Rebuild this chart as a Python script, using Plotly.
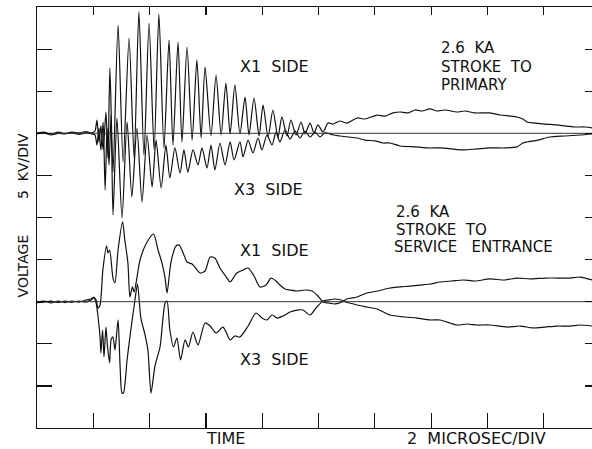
import plotly.graph_objects as go

# ---------------- data (time in microseconds, voltage in kV relative to each trace's baseline) -------------
X_MAX = 19.716          # visible end of the 10-division (20 us) sweep
TIME_TICKS = [2, 4, 6, 8, 10, 12, 14, 16, 18]
VOLT_TICKS = [-30, -25, -20, -15, -10, -5, 0, 5, 10]
UPPER_BASE = 0.0        # stroke to primary baseline (kV)
LOWER_BASE = -20.0      # stroke to service entrance baseline (kV)

# Stroke to primary, X1 side
P_X1_T = [0.00, 0.25, 0.50, 0.75, 0.99, 1.24, 1.49, 1.74, 1.95, 2.06, 2.13, 2.20, 2.27, 2.35, 2.45, 2.52,
          2.59, 2.70, 2.88, 3.06, 3.27, 3.45, 3.62, 3.80, 3.98, 4.16, 4.33, 4.51, 4.69, 4.83, 5.01, 5.15,
          5.33, 5.51, 5.68, 5.83, 5.97, 6.18, 6.36, 6.54, 6.71, 6.86, 7.03, 7.21, 7.39, 7.53, 7.71, 7.89,
          8.03, 8.21, 8.38, 8.56, 8.70, 8.88, 9.02, 9.20, 9.38, 9.52, 9.70, 9.84, 9.98, 10.16, 10.34, 10.52,
          10.76, 11.01, 11.37, 11.65, 12.08, 12.36, 12.65, 12.90, 13.18, 13.43, 13.68, 13.96, 14.21, 14.49,
          14.92, 15.20, 15.56, 16.09, 16.45, 16.80, 17.05, 17.26, 17.41, 17.69, 18.05, 18.47, 18.76, 19.11,
          19.47, 19.72]
P_X1_V = [0.04, 0.15, -0.08, 0.15, -0.02, 0.15, 0.04, 0.21, 0.04, 0.27, 1.58, -1.03, 0.87, -1.98, 2.53, -2.93,
          7.76, -4.60, 12.86, -3.41, 11.31, -2.93, 14.41, -2.58, 13.10, -1.98, 14.17, -1.74, 11.08, -1.39, 10.84, -1.03,
          10.25, -0.80, 8.71, -0.56, 7.87, -0.32, 6.92, -0.20, 5.97, -0.08, 5.74, -0.08, 4.31, -0.20, 4.19, -0.32,
          3.36, -0.44, 2.77, -0.44, 1.94, -0.32, 1.58, -0.20, 1.34, -0.08, 1.22, 0.04, 0.99, 0.15, 1.22, 1.10,
          1.46, 1.22, 1.82, 1.70, 2.17, 2.05, 2.42, 2.53, 2.42, 2.77, 2.65, 2.89, 2.65, 2.77,
          2.53, 2.65, 2.42, 2.42, 2.17, 2.05, 1.94, 1.70, 1.34, 1.22, 1.10, 0.99, 0.87, 0.75,
          0.75, 0.63]

# Stroke to primary, X3 side
P_X3_T = [0.00, 0.25, 0.50, 0.75, 0.99, 1.24, 1.49, 1.74, 1.95, 2.06, 2.13, 2.20, 2.27, 2.35, 2.42, 2.49,
          2.56, 2.63, 2.70, 2.84, 3.02, 3.20, 3.37, 3.55, 3.73, 3.91, 4.09, 4.23, 4.41, 4.58, 4.72, 4.90,
          5.08, 5.22, 5.36, 5.54, 5.72, 5.86, 6.04, 6.18, 6.32, 6.50, 6.68, 6.86, 7.00, 7.21, 7.32, 7.50,
          7.67, 7.85, 7.99, 8.17, 8.35, 8.49, 8.63, 8.81, 8.99, 9.17, 9.34, 9.52, 9.70, 9.88, 10.05, 10.23,
          10.52, 10.76, 11.05, 11.37, 11.65, 12.01, 12.29, 12.54, 12.90, 13.50, 13.89, 14.32, 14.74, 15.13,
          15.63, 16.09, 16.63, 17.05, 17.26, 17.41, 17.80, 18.22, 18.76, 19.29, 19.72]
P_X3_V = [-0.08, 0.04, -0.20, -0.02, -0.08, 0.04, -0.14, 0.04, -0.08, -0.20, -1.39, 0.63, -1.98, 1.34, -6.73, 0.63,
          -3.76, 2.17, -9.70, 1.82, -10.06, 1.34, -7.56, 0.63, -8.16, -0.20, -6.38, -0.80, -6.50, -1.39, -5.31, -1.74,
          -4.72, -1.98, -4.60, -1.98, -3.76, -1.74, -4.12, -1.39, -4.36, -1.15, -3.76, -1.03, -3.17, -1.03, -2.81, -0.80,
          -2.34, -0.56, -1.98, -0.20, -1.39, 0.15, -1.03, 0.39, -0.68, 0.27, -0.56, 0.27, -0.44, 0.15, -0.44, 0.04,
          -0.20, -0.32, -0.44, -0.56, -0.80, -0.91, -1.15, -1.15, -1.51, -1.62, -1.74, -1.74, -1.86, -1.98,
          -1.86, -1.74, -1.74, -1.62, -1.15, -1.03, -0.80, -0.44, -0.32, -0.20, -0.08]

# Stroke to service entrance, X1 side
S_X1_T = [0.00, 0.25, 0.50, 0.75, 0.99, 1.24, 1.49, 1.74, 1.92, 2.02, 2.10, 2.17, 2.24, 2.34, 2.47, 2.52,
          2.58, 2.70, 2.77, 2.88, 3.04, 3.12, 3.23, 3.30, 3.39, 3.45, 3.66, 3.89, 4.14, 4.30, 4.44, 4.55,
          4.62, 4.76, 4.94, 5.05, 5.22, 5.33, 5.51, 5.79, 5.97, 6.15, 6.32, 6.50, 6.75, 6.86, 7.10, 7.32,
          7.50, 7.71, 7.92, 8.14, 8.31, 8.49, 8.63, 8.81, 8.99, 9.24, 9.52, 9.77, 9.98, 10.16, 10.34, 10.59,
          10.83, 11.01, 11.37, 11.72, 12.11, 12.54, 12.90, 13.25, 13.61, 13.96, 14.32, 14.74, 15.13, 15.56,
          16.09, 16.63, 17.05, 17.51, 18.05, 18.47, 18.93, 19.29, 19.72]
S_X1_V = [-0.04, 0.08, -0.15, 0.08, -0.10, 0.08, -0.04, 0.20, 0.32, 0.56, 0.20, -0.75, -0.39, 3.76, 6.62, 5.78,
          6.14, 2.81, 2.22, 6.14, 9.47, 7.33, 4.60, 0.56, 1.75, 1.15, 4.95, 6.97, 8.04, 6.14, 4.60, 2.81,
          1.03, 4.71, 6.62, 6.73, 5.55, 4.71, 4.48, 3.41, 3.65, 5.31, 5.19, 4.00, 2.81, 2.34, 3.41, 3.76,
          4.00, 3.05, 1.75, 1.98, 2.81, 2.46, 1.98, 1.51, 1.39, 1.27, 1.39, 1.27, 0.68, -0.04, -0.15, -0.27,
          -0.04, 0.32, 0.56, 1.03, 1.27, 1.63, 1.75, 1.86, 1.98, 2.10, 2.34, 2.46, 2.58, 2.46,
          2.70, 2.58, 2.81, 2.70, 2.81, 2.81, 2.81, 2.93, 2.58]

# Stroke to service entrance, X3 side
S_X3_T = [0.00, 0.25, 0.50, 0.75, 0.99, 1.24, 1.49, 1.74, 1.92, 2.02, 2.10, 2.17, 2.24, 2.27, 2.33, 2.38,
          2.45, 2.50, 2.58, 2.63, 2.70, 2.77, 2.88, 2.95, 3.02, 3.07, 3.20, 3.30, 3.48, 3.57, 3.69, 3.84,
          3.94, 4.05, 4.19, 4.37, 4.55, 4.62, 4.72, 4.85, 4.97, 5.10, 5.26, 5.38, 5.54, 5.72, 5.97, 6.15,
          6.36, 6.61, 6.86, 7.03, 7.21, 7.50, 7.78, 7.99, 8.17, 8.35, 8.53, 8.74, 8.99, 9.24, 9.45, 9.70,
          9.91, 10.16, 10.34, 10.59, 10.80, 10.98, 11.37, 11.72, 12.08, 12.54, 13.07, 13.50, 13.96, 14.32,
          14.67, 14.92, 15.28, 15.63, 16.09, 16.70, 17.16, 17.62, 18.05, 18.47, 18.93, 19.29, 19.72]
S_X3_V = [-0.10, -0.04, 0.08, -0.10, 0.08, -0.04, 0.08, -0.04, 0.20, 0.44, -0.15, -1.82, -4.19, -6.09, -3.36, -6.57,
          -3.01, -5.14, -7.28, -4.54, -4.19, -5.74, -2.17, -7.52, -10.85, -10.85, -6.92, -4.19, 0.20, 2.10, -1.94, -3.96,
          -5.74, -10.85, -7.64, -5.38, -0.15, 0.08, -3.36, -5.38, -4.31, -6.92, -4.54, -5.38, -3.60, -5.14, -2.53, -2.89,
          -3.72, -3.01, -4.54, -4.07, -4.19, -2.89, -1.34, -1.94, -2.17, -1.58, -1.94, -1.70, -1.22, -0.99, -0.99, -1.58,
          -0.75, 0.08, 0.20, 0.32, 0.20, -0.04, -0.39, -0.63, -0.87, -1.58, -1.82, -1.94, -2.17, -2.17,
          -2.53, -2.77, -2.65, -2.77, -2.77, -3.01, -2.89, -3.12, -3.01, -2.89, -2.89, -2.77, -2.89]

# single labels: (text, time_us, kV)
SIDE_LABELS = [
    ("X1  SIDE", 7.14, 7.99),
    ("X3  SIDE", 6.93, -6.73),
    ("X1  SIDE", 7.14, -13.86),
    ("X3  SIDE", 7.14, -26.90),
]
# stacked stroke descriptions: (text, time_us, kV)
STROKE_LABELS = [
    ("2.6  KA", 14.32, 10.10),
    ("STROKE  TO", 14.32, 7.93),
    ("PRIMARY", 14.32, 5.76),
    ("2.6  KA", 12.72, -9.40),
    ("STROKE  TO", 12.72, -11.45),
    ("SERVICE   ENTRANCE", 12.65, -13.50),
]
X_LABELS = [("TIME", 6.71), ("2  MICROSEC/DIV", 15.63)]
Y_TITLE = "VOLTAGE        5  KV/DIV"

# ---------------- figure ----------------
FONT = "DejaVu Sans"
INK = "#111111"
fig = go.Figure()

def add_series(t, v, base):
    fig.add_trace(go.Scatter(
        x=t, y=[val + base for val in v], mode="lines",
        line=dict(color=INK, width=1.2, shape="spline", smoothing=0.7),
        hoverinfo="skip", showlegend=False))

add_series(P_X1_T, P_X1_V, UPPER_BASE)
add_series(P_X3_T, P_X3_V, UPPER_BASE)
add_series(S_X1_T, S_X1_V, LOWER_BASE)
add_series(S_X3_T, S_X3_V, LOWER_BASE)

for base in (UPPER_BASE, LOWER_BASE):
    fig.add_trace(go.Scatter(
        x=[0, X_MAX], y=[base, base], mode="lines",
        line=dict(color="#333333", width=1), xaxis="x2", yaxis="y2",
        hoverinfo="skip", showlegend=False))

ann = []
for text, t, v in SIDE_LABELS:
    ann.append(dict(text=text, x=t, y=v, xref="x", yref="y", xanchor="left", yanchor="middle",
                    showarrow=False, font=dict(family=FONT, size=16, color=INK)))
for text, t, v in STROKE_LABELS:
    ann.append(dict(text=text, x=t, y=v, xref="x", yref="y", xanchor="left", yanchor="middle",
                    borderpad=0, showarrow=False, font=dict(family=FONT, size=15, color=INK)))
for text, t in X_LABELS:
    ann.append(dict(text=text, x=t, y=0, xref="x", yref="paper", xanchor="center", yanchor="middle",
                    yshift=-10, showarrow=False, font=dict(family=FONT, size=16, color=INK)))
ann.append(dict(text=Y_TITLE, x=0, y=0.505, xref="paper", yref="paper", xanchor="center",
                yanchor="middle", xshift=-14, textangle=-90, showarrow=False,
                font=dict(family=FONT, size=14, color=INK)))

common = dict(showgrid=False, zeroline=False, showticklabels=False, ticks="inside",
              tickcolor=INK, tickwidth=1.2, linecolor=INK, linewidth=1.2)

fig.update_layout(
    width=592, height=449,
    margin=dict(l=37, r=0, t=7, b=21),
    paper_bgcolor="white", plot_bgcolor="white",
    xaxis=dict(range=[0, X_MAX], tickvals=TIME_TICKS, ticklen=15, showline=True, **common),
    xaxis2=dict(range=[0, X_MAX], tickvals=TIME_TICKS, ticklen=8, showline=True,
                overlaying="x", side="top", matches="x", **common),
    yaxis=dict(range=[-35, 15], tickvals=VOLT_TICKS, ticklen=15, showline=True, **common),
    yaxis2=dict(range=[-35, 15], tickvals=VOLT_TICKS, ticklen=7, showline=False,
                overlaying="y", side="right", matches="y", **common),
    annotations=ann,
)

fig.write_html("out.html", config={"displayModeBar": False, "staticPlot": True},
               post_script="document.body.style.margin='0px';")
